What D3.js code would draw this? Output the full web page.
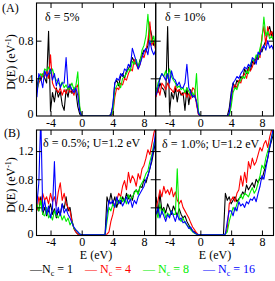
<!DOCTYPE html>
<html><head><meta charset="utf-8">
<script src="https://cdn.jsdelivr.net/npm/d3@7"></script>
<style>body{margin:0;background:#fff}svg{display:block}text{font-family:"Liberation Serif","DejaVu Serif",serif}</style>
</head><body><svg id="c" width="275" height="281"></svg>
<script>
// Energy grid (eV)
const energies = d3.range(-5.75, 9.501, 0.25);
const seriesNames = ["Nc = 1", "Nc = 4", "Nc = 8", "Nc = 16"];
const colors = ["#000000", "#ff0000", "#00ee00", "#0000ff"];
const xTicks = [-4, 0, 4, 8];
const yTicksA = [0.4, 0.8];
const yTicksB = [0.4, 0.8, 1.2];
const panelTitles = ["δ = 5%", "δ = 10%", "δ = 0.5%; U=1.2 eV", "δ = 1.0%; U=1.2 eV"];
const legendLabels = ["1", "4", "8", "16"];

// valence (-5.75..0, 24), gap (0.25..3.75, 15), conduction (4.0..9.5, 23)
// Panel A, delta = 5%
const a5_nc1 = [0.30,0.42,0.38,0.44,0.40,0.35,0.90,0.05,0.25,0.15,0.30,0.20,0.26,0.12,0.06,0.28,0.20,0.34,0.24,0.30,0.26,0.10,0.02,0,
  0,0,0,0,0,0,0,0,0,0,0,0,0,0,0.02,
  0.10,0.35,0.38,0.32,0.42,0.45,0.40,0.48,0.50,0.55,0.62,0.58,0.55,0.52,0.60,0.65,0.70,0.68,0.75,0.95,0.85,0.75,0.80];
const a5_nc4 = [0.28,0.35,0.40,0.45,0.42,0.48,0.40,0.65,0.35,0.30,0.28,0.25,0.30,0.22,0.28,0.24,0.30,0.25,0.28,0.22,0.30,0.33,0.08,0,
  0,0,0,0,0,0,0,0,0,0,0,0,0,0,0,
  0.02,0.20,0.30,0.28,0.35,0.33,0.40,0.38,0.45,0.50,0.48,0.60,0.55,0.50,0.55,0.65,0.62,0.70,0.80,1.00,0.75,0.80,0.70];
const a5_nc8 = [0.25,0.38,0.45,0.42,0.50,0.48,0.52,0.45,0.50,0.42,0.38,0.35,0.32,0.36,0.30,0.33,0.28,0.30,0.35,0.28,0.32,0.47,0.10,0,
  0,0,0,0,0,0,0,0,0,0,0,0,0,0,0,
  0.04,0.28,0.32,0.35,0.30,0.40,0.42,0.45,0.50,0.48,0.58,0.55,0.60,0.52,0.58,0.70,0.75,0.85,1.08,0.80,0.78,0.85,0.72];
const a5_nc16 = [0.20,0.45,0.40,0.30,0.48,0.42,0.45,0.50,0.38,0.45,0.32,0.40,0.30,0.35,0.35,0.62,0.30,0.32,0.28,0.25,0.30,0.22,0.05,0,
  0,0,0,0,0,0,0,0,0,0,0,0,0,0,0.01,
  0.12,0.35,0.40,0.38,0.45,0.42,0.50,0.48,0.55,0.52,0.72,0.65,0.58,0.50,0.55,0.62,0.68,0.72,0.65,0.80,0.70,0.65,0.70];
// Panel A, delta = 10%
const a10_nc1 = [0.30,0.25,0.35,0.30,0.28,0.20,0.95,0.04,0.25,0.18,0.30,0.15,0.28,0.22,0.25,0.06,0.30,0.12,0.28,0.20,0.22,0.15,0.02,0,
  0,0,0,0,0,0,0,0,0,0,0,0,0,0,0.08,
  0.25,0.35,0.30,0.38,0.35,0.42,0.40,0.50,0.45,0.52,0.48,0.58,0.55,0.62,0.60,0.70,0.68,0.75,0.80,0.90,0.95,0.85,0.90];
const a10_nc4 = [0.20,0.30,0.22,0.35,0.32,0.28,0.35,0.30,0.28,0.25,0.32,0.26,0.28,0.24,0.22,0.26,0.20,0.24,0.18,0.30,0.28,0.12,0.02,0,
  0,0,0,0,0,0,0,0,0,0,0,0,0,0,0.02,
  0.15,0.30,0.33,0.30,0.38,0.35,0.42,0.45,0.40,0.50,0.48,0.52,0.60,0.58,0.65,0.62,0.85,0.95,0.75,0.95,0.85,0.90,0.82];
const a10_nc8 = [0.25,0.35,0.40,0.45,0.42,0.48,0.40,0.50,0.42,0.38,0.35,0.30,0.32,0.28,0.30,0.25,0.30,0.26,0.22,0.25,0.20,0.45,0.05,0,
  0,0,0,0,0,0,0,0,0,0,0,0,0,0,0,
  0.10,0.25,0.30,0.28,0.35,0.38,0.42,0.40,0.48,0.45,0.55,0.60,0.58,0.65,0.62,0.72,0.80,1.05,0.85,0.90,0.82,0.85,0.80];
const a10_nc16 = [0.22,0.30,0.40,0.45,0.42,0.38,0.45,0.35,0.48,0.40,0.38,0.32,0.36,0.30,0.30,0.35,0.55,0.30,0.25,0.20,0.22,0.15,0.03,0,
  0,0,0,0,0,0,0,0,0,0,0,0,0,0,0.03,
  0.20,0.35,0.38,0.42,0.40,0.45,0.48,0.52,0.50,0.55,0.52,0.62,0.60,0.55,0.68,0.65,0.72,0.75,0.70,0.80,0.72,0.75,0.70];
// Panel B, delta = 0.5%, U = 1.2 eV
const b05_nc1 = [0.40,0.35,0.55,0.30,0.40,0.28,0.35,0.45,0.30,0.38,0.25,0.35,0.30,0.45,0.38,0.55,0.35,0.40,0.22,0.10,0.05,0.02,0.01,0.01,
  0.01,0.01,0.01,0.01,0.01,0.01,0.01,0.01,0.01,0.01,0.01,0.01,0.55,0.45,0.60,
  0.45,0.55,0.40,0.50,0.45,0.55,0.48,0.60,0.52,0.58,0.50,0.62,0.65,0.60,0.70,0.68,0.80,0.75,0.85,0.95,1.05,1.20,1.35];
const b05_nc4 = [0.35,0.55,0.45,0.60,0.50,0.55,0.45,0.60,0.48,0.55,0.42,0.62,0.75,0.50,0.60,0.45,0.40,0.35,0.20,0.10,0.05,0.02,0.01,0.01,
  0.01,0.01,0.01,0.01,0.01,0.01,0.01,0.01,0.01,0.01,0.01,0.01,0.02,0.05,0.20,
  0.30,0.45,0.50,0.60,0.55,0.70,0.78,0.65,0.90,0.75,0.85,0.80,0.70,0.88,0.80,0.95,1.00,1.10,1.22,1.15,1.30,1.45,1.55];
const b05_nc8 = [0.45,0.35,0.50,0.30,0.28,0.40,0.25,0.30,0.22,0.35,0.28,0.25,0.32,0.22,0.28,0.20,0.25,0.15,0.20,0.10,0.08,0.05,0.02,0.01,
  0.01,0.01,0.01,0.01,0.01,0.01,0.01,0.01,0.01,0.01,0.01,0.01,0.20,0.40,0.35,
  0.45,0.40,0.50,0.45,0.55,0.48,0.52,0.45,0.58,0.50,0.55,0.60,0.65,0.58,0.70,0.75,0.80,0.88,0.92,1.05,1.15,1.30,1.40];
const b05_nc16 = [0.45,0.75,1.70,0.35,0.50,0.30,0.42,0.25,0.38,1.05,0.30,0.40,0.28,0.45,0.32,0.38,0.30,0.25,0.18,0.12,0.08,0.05,0.02,0.01,
  0.01,0.01,0.01,0.01,0.01,0.01,0.01,0.01,0.01,0.01,0.01,0.01,0.30,0.50,0.45,
  0.50,0.40,0.55,0.45,0.50,0.42,0.48,0.55,0.45,0.52,0.40,0.50,0.45,0.55,0.60,0.65,0.70,0.80,0.85,0.95,1.10,1.25,1.50];
// Panel B, delta = 1.0%, U = 1.2 eV
const b10_nc1 = [0.55,0.30,0.60,0.35,0.40,0.32,0.45,0.38,0.30,0.42,0.35,0.28,0.38,0.30,0.25,0.28,0.20,0.15,0.10,0.07,0.05,0.02,0.01,0.01,
  0.01,0.01,0.01,0.01,0.01,0.01,0.01,0.01,0.01,0.01,0.01,0.01,0.60,0.50,0.55,
  0.45,0.50,0.55,0.48,0.52,0.55,0.62,0.58,0.72,0.65,0.70,0.75,0.68,0.80,0.75,0.82,0.80,0.90,1.00,1.10,1.25,1.35,1.45];
const b10_nc4 = [0.40,0.50,0.65,0.55,0.70,0.60,0.65,0.58,0.68,0.55,0.62,0.50,0.45,0.50,0.40,0.35,0.30,0.25,0.18,0.12,0.08,0.04,0.01,0.01,
  0.01,0.01,0.01,0.01,0.01,0.01,0.01,0.01,0.01,0.01,0.01,0.01,0.02,0.10,0.45,
  0.50,0.55,0.48,0.60,0.65,0.85,0.70,0.90,0.75,1.05,0.95,1.10,1.00,1.05,1.15,1.25,1.20,1.30,1.35,1.25,1.40,1.50,1.55];
const b10_nc8 = [0.35,0.25,0.45,0.30,0.38,0.25,0.32,0.28,0.35,0.30,0.30,0.95,0.25,0.20,0.25,0.18,0.15,0.12,0.08,0.05,0.03,0.02,0.01,0.01,
  0.01,0.01,0.01,0.01,0.01,0.01,0.01,0.01,0.01,0.01,0.01,0.01,0.02,0.05,0.20,
  0.30,0.40,0.35,0.45,0.50,0.58,0.52,0.60,0.58,0.55,0.62,0.68,0.60,0.65,0.75,0.85,1.00,0.95,1.10,1.20,1.28,1.40,1.50];
const b10_nc16 = [0.30,0.40,0.25,0.35,0.28,0.20,0.30,0.25,0.35,0.28,0.20,0.30,0.22,0.25,0.18,0.20,0.15,0.10,0.12,0.06,0.04,0.02,0.01,0.01,
  0.01,0.01,0.01,0.01,0.01,0.01,0.01,0.01,0.01,0.01,0.01,0.01,0.02,0.20,0.35,
  0.35,0.28,0.40,0.35,0.48,0.42,0.45,0.40,0.48,0.45,0.52,0.50,0.55,0.48,0.60,0.70,0.85,0.80,0.95,1.10,1.25,1.40,1.55];

const svg = d3.select("#c");
const xDomain = [-5.8, 9.5];
const panels = [
  {x0:36.5, x1:155.7, y0:116, y1:3, ymax:1.2, yt:yTicksA, leftLabels:true, title:panelTitles[0], tx:45, ty:21, series:[a5_nc1,a5_nc4,a5_nc8,a5_nc16]},
  {x0:155.7, x1:273.5, y0:116, y1:3, ymax:1.2, yt:yTicksA, leftLabels:false, title:panelTitles[1], tx:165, ty:21, series:[a10_nc1,a10_nc4,a10_nc8,a10_nc16]},
  {x0:36.5, x1:155.7, y0:235.5, y1:130, ymax:1.5, yt:yTicksB, leftLabels:true, title:panelTitles[2], tx:43, ty:147, series:[b05_nc1,b05_nc4,b05_nc8,b05_nc16]},
  {x0:155.7, x1:273.5, y0:235.5, y1:130, ymax:1.5, yt:yTicksB, leftLabels:false, title:panelTitles[3], tx:162, ty:148, series:[b10_nc1,b10_nc4,b10_nc8,b10_nc16]}
];

panels.forEach((p, pi) => {
  const x = d3.scaleLinear().domain(xDomain).range([p.x0, p.x1]);
  const y = d3.scaleLinear().domain([0, p.ymax]).range([p.y0, p.y1]);
  const cid = "clip" + pi;
  svg.append("clipPath").attr("id", cid).append("rect")
    .attr("x", p.x0).attr("y", p.y1).attr("width", p.x1 - p.x0).attr("height", p.y0 - p.y1);
  const g = svg.append("g");
  const line = d3.line().x((d, i) => x(energies[i])).y(d => y(d));
  p.series.forEach((s, si) => {
    g.append("path").datum(s).attr("clip-path", `url(#${cid})`)
      .attr("d", line).attr("fill", "none").attr("stroke", colors[si])
      .attr("stroke-width", 1.1).attr("stroke-linejoin", "round");
  });
  // axes with inward ticks
  const tl = 5;
  const bottom = d3.axisBottom(x).tickValues(xTicks).tickSize(-tl).tickPadding(2);
  const top = d3.axisTop(x).tickValues(xTicks).tickSize(-tl).tickFormat("");
  const left = d3.axisLeft(y).tickValues(p.yt).tickSize(-tl).tickPadding(3).tickFormat(d => d);
  const right = d3.axisRight(y).tickValues(p.yt).tickSize(-tl).tickFormat("");
  const gb = svg.append("g").attr("transform", `translate(0,${p.y0})`).call(bottom);
  svg.append("g").attr("transform", `translate(0,${p.y1})`).call(top);
  const gl = svg.append("g").attr("transform", `translate(${p.x0},0)`).call(left);
  svg.append("g").attr("transform", `translate(${p.x1},0)`).call(right);
  svg.selectAll(".domain").remove();
  svg.selectAll(".tick line").attr("stroke", "#000").attr("stroke-width", 1);
  gb.selectAll("text").attr("font-size", 12).attr("font-family", "Liberation Serif").attr("fill", "#000")
    .text(d => d < 0 ? "-" + Math.abs(d) : d);
  if (p.leftLabels) {
    gl.selectAll("text").attr("font-size", 12).attr("font-family", "Liberation Serif").attr("fill", "#000");
    gl.append("text").attr("x", -3).attr("y", p.y0 + 2).attr("text-anchor", "end")
      .attr("font-size", 12).attr("font-family", "Liberation Serif").attr("fill", "#000").text("0");
  } else {
    gl.selectAll("text").remove();
  }
  svg.append("rect").attr("x", p.x0).attr("y", p.y1).attr("width", p.x1 - p.x0).attr("height", p.y0 - p.y1)
    .attr("fill", "none").attr("stroke", "#000").attr("stroke-width", 1.1);
  svg.append("text").attr("x", p.tx).attr("y", p.ty).attr("font-size", 12).text(p.title);
});

// panel labels
svg.append("text").attr("x", 2).attr("y", 12).attr("font-size", 12).text("(A)");
svg.append("text").attr("x", 4).attr("y", 137).attr("font-size", 12).text("(B)");

// y-axis titles
[[15, 62], [15, 185]].forEach(([cx, cy]) => {
  const t = svg.append("text").attr("transform", `translate(${cx},${cy}) rotate(-90)`)
    .attr("text-anchor", "middle").attr("font-size", 12);
  t.append("tspan").text("D(E) (eV");
  t.append("tspan").attr("dy", -4).attr("font-size", 8).text("-1");
  t.append("tspan").attr("dy", 4).text(")");
});

// x-axis titles
[96, 215].forEach(cx => {
  svg.append("text").attr("x", cx).attr("y", 259).attr("text-anchor", "middle").attr("font-size", 12).text("E (eV)");
});

// legend
const legendX = [30, 85, 143, 203];
legendLabels.forEach((lab, i) => {
  const t = svg.append("text").attr("x", legendX[i]).attr("y", 273).attr("font-size", 12).attr("fill", colors[i]);
  t.append("tspan").text(i === 0 ? "—N" : "— N");
  t.append("tspan").attr("dy", 3).attr("font-size", 8).text("c");
  t.append("tspan").attr("dy", -3).text(" = " + lab);
});
</script></body></html>
